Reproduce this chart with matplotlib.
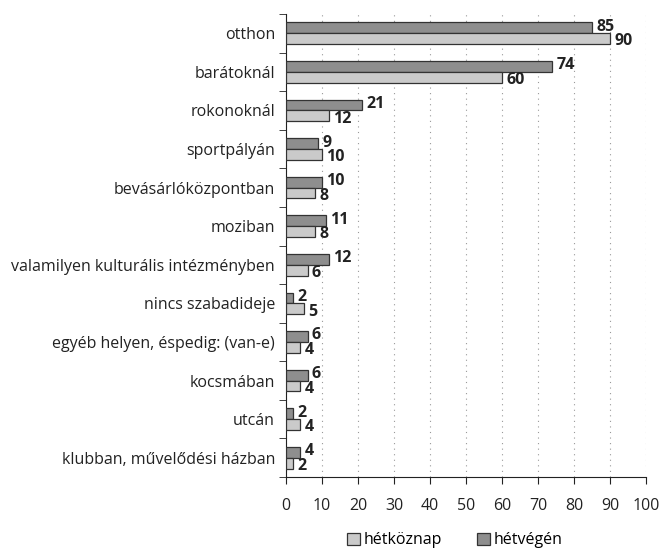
import numpy as np
import matplotlib.pyplot as plt

plt.rcParams['font.family'] = ['Open Sans', 'DejaVu Sans']

categories = ['otthon', 'barátoknál', 'rokonoknál', 'sportpályán', 'bevásárlóközpontban',
              'moziban', 'valamilyen kulturális intézményben', 'nincs szabadideje',
              'egyéb helyen, éspedig: (van-e)', 'kocsmában', 'utcán',
              'klubban, művelődési házban']
hetkoznap = [90, 60, 12, 10, 8, 8, 6, 5, 4, 4, 4, 2]
hetvegen = [85, 74, 21, 9, 10, 11, 12, 2, 6, 6, 2, 4]

fig = plt.figure(figsize=(6.72, 5.49), dpi=100)
ax = fig.add_axes([0.4256, 0.131, 0.5357, 0.8435])

n = len(categories)
y = np.arange(n)
h = 0.28
dark = '#8e8e8e'
light = '#cacaca'
edge = '#333333'

ax.barh(y - h/2, hetvegen, height=h, color=dark, edgecolor=edge, linewidth=0.9,
        label='hétvégén', zorder=3)
ax.barh(y + h/2, hetkoznap, height=h, color=light, edgecolor=edge, linewidth=0.9,
        label='hétköznap', zorder=3)

for i in range(n):
    ax.text(hetvegen[i] + 1.2, y[i] - h/2 - 0.03, str(hetvegen[i]), va='center', ha='left',
            fontsize=11.5, fontweight='bold', color='#222222', zorder=4)
    ax.text(hetkoznap[i] + 1.2, y[i] + h/2 + 0.07, str(hetkoznap[i]), va='center', ha='left',
            fontsize=11.5, fontweight='bold', color='#222222', zorder=4)

ax.set_xlim(0, 100)
ax.set_ylim(n - 0.5, -0.5)
ax.set_xticks(np.arange(0, 101, 10))
ax.set_yticks(y)
ax.set_yticklabels(categories, fontsize=11.5, color='#222222')
ax.set_yticks(np.arange(-0.5, n, 1), minor=True)
ax.tick_params(axis='y', which='major', length=0, pad=8)
ax.tick_params(axis='y', which='minor', length=5, direction='out', color='#222222')
ax.tick_params(axis='x', length=5, direction='out', pad=10, labelsize=11.5,
               labelcolor='#222222', color='#222222')

ax.xaxis.grid(True, linestyle=(0, (1, 4)), color='#999999', linewidth=0.8, zorder=0)
for s in ['top', 'right']:
    ax.spines[s].set_visible(False)
ax.spines['left'].set_color('#222222')
ax.spines['bottom'].set_color('#222222')

handles, labels = ax.get_legend_handles_labels()
fig.legend(handles[::-1], labels[::-1], loc='lower center', bbox_to_anchor=(0.677, -0.025),
           ncol=2, frameon=False, fontsize=11.5, handlelength=0.8, handleheight=0.8,
           handletextpad=0.25, columnspacing=2.2)

fig.savefig('out.png', dpi=100)
